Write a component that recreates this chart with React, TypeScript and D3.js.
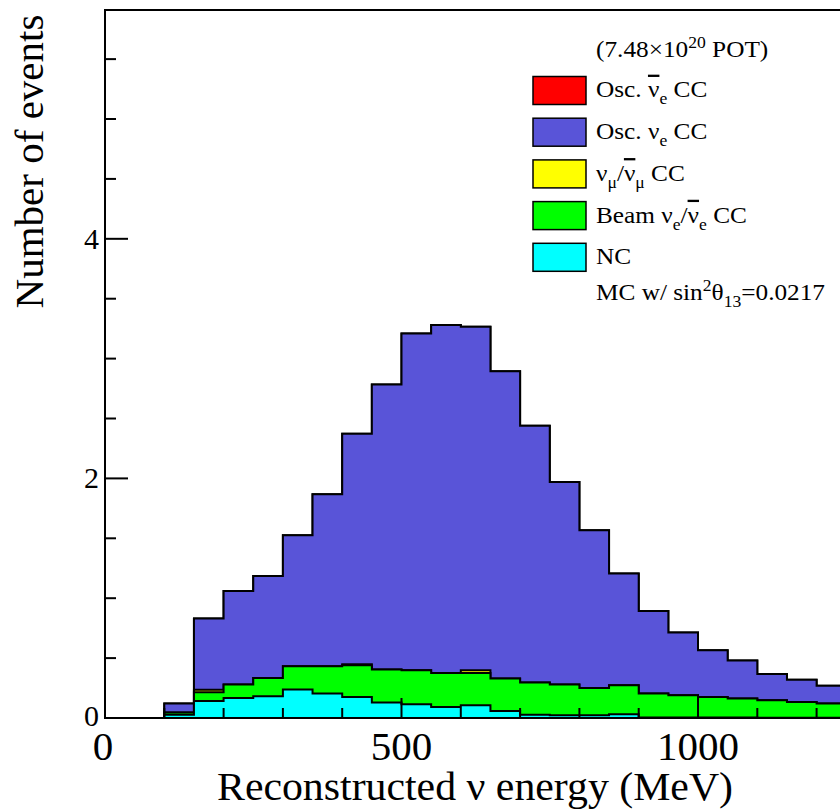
import React, { useRef, useEffect } from 'react';
import * as d3 from 'd3';

// histogram bins (lower edge, MeV), 50 MeV wide
const binLow = [100, 150, 200, 250, 300, 350, 400, 450, 500, 550, 600, 650, 700, 750, 800, 850, 900, 950, 1000, 1050, 1100, 1150, 1200];
const binWidth = 50;

// stacked components, bottom to top
const ncEvents = [0.028, 0.142, 0.167, 0.181, 0.237, 0.204, 0.175, 0.13, 0.114, 0.092, 0.106, 0.058, 0.028, 0.022, 0.022, 0.031, 0.005, 0.005, 0.004, 0.004, 0.003, 0.003, 0.003];
const beamNueEvents = [0.017, 0.073, 0.112, 0.153, 0.195, 0.228, 0.265, 0.274, 0.284, 0.284, 0.27, 0.271, 0.268, 0.257, 0.228, 0.242, 0.199, 0.185, 0.171, 0.158, 0.145, 0.131, 0.117];
const numuEvents = [0, 0.02, 0, 0, 0, 0, 0.008, 0, 0, 0, 0.022, 0, 0, 0, 0, 0, 0, 0, 0, 0, 0, 0, 0];
const oscNueEvents = [0.075, 0.595, 0.781, 0.852, 1.094, 1.436, 1.924, 2.38, 2.812, 2.904, 2.867, 2.566, 2.144, 1.691, 1.317, 0.933, 0.69, 0.523, 0.39, 0.317, 0.219, 0.186, 0.15];
const oscNuebarEvents = [0, 0, 0, 0, 0, 0, 0, 0, 0, 0, 0, 0, 0, 0, 0, 0, 0, 0, 0, 0, 0, 0, 0];

const seriesKeys = ['nc', 'beamNue', 'numu', 'oscNue', 'oscNuebar'];
const seriesColors = ['#00ffff', '#00ff00', '#ffff00', '#5954d8', '#ff0000'];

const xMajorTicks = [0, 500, 1000];
const yMajorTicks = [0, 2, 4];

// legend rows, top to bottom
const legendRows = [
    { color: '#ff0000', parts: [{ t: 'Osc. ' }, { t: 'ν', bar: true }, { t: 'e', sub: true }, { t: ' CC' }] },
    { color: '#5954d8', parts: [{ t: 'Osc. ' }, { t: 'ν' }, { t: 'e', sub: true }, { t: ' CC' }] },
    { color: '#ffff00', parts: [{ t: 'ν' }, { t: 'μ', sub: true }, { t: '/' }, { t: 'ν', bar: true }, { t: 'μ', sub: true }, { t: ' CC' }] },
    { color: '#00ff00', parts: [{ t: 'Beam ' }, { t: 'ν' }, { t: 'e', sub: true }, { t: '/' }, { t: 'ν', bar: true }, { t: 'e', sub: true }, { t: ' CC' }] },
    { color: '#00ffff', parts: [{ t: 'NC' }] },
];

const W = 840, H = 811;
const FONT = '"Liberation Serif", "Times New Roman", serif';

const App = () => {

    const ref = useRef(null);

    useEffect(() => {
        const svg = d3.select(ref.current);
        svg.selectAll('*').remove();

        const margin = { left: 105, top: 10, bottom: 93 };
        const xScale = d3.scaleLinear().domain([0, 1250]).range([margin.left, margin.left + 1250 * 0.593]);
        const yScale = d3.scaleLinear().domain([0, 5.91]).range([H - margin.bottom, margin.top]);

        const table = binLow.map((lo, i) => ({
            lo,
            nc: ncEvents[i],
            beamNue: beamNueEvents[i],
            numu: numuEvents[i],
            oscNue: oscNueEvents[i],
            oscNuebar: oscNuebarEvents[i],
        }));
        const stacked = d3.stack().keys(seriesKeys)(table);

        const g = svg.append('g');

        // cumulative histograms drawn from the top layer down
        for (let k = stacked.length - 1; k >= 0; k--) {
            const layer = stacked[k];
            const pts = [[binLow[0], 0]];
            layer.forEach((d, i) => {
                pts.push([binLow[i], d[1]]);
                pts.push([binLow[i] + binWidth, d[1]]);
            });
            const area = d3.area()
                .x(p => xScale(p[0]))
                .y0(yScale(0))
                .y1(p => yScale(p[1]));
            const line = d3.line()
                .x(p => xScale(p[0]))
                .y(p => yScale(p[1]));
            g.append('path')
                .attr('d', area(pts))
                .attr('fill', seriesColors[k]);
            g.append('path')
                .attr('d', line(pts))
                .attr('fill', 'none')
                .attr('stroke', '#000')
                .attr('stroke-width', 2);
        }

        // frame
        const x0 = xScale(0), y0 = yScale(0), yTop = yScale(5.91);
        g.append('path')
            .attr('d', `M${W + 10},${yTop}H${x0}V${y0}H${W + 10}`)
            .attr('fill', 'none')
            .attr('stroke', '#000')
            .attr('stroke-width', 2);

        // x ticks
        d3.range(0, 1300, 100).forEach(v => {
            const major = v % 500 === 0;
            g.append('line')
                .attr('x1', xScale(v)).attr('x2', xScale(v))
                .attr('y1', y0).attr('y2', y0 - (major ? 20 : 10))
                .attr('stroke', '#000').attr('stroke-width', 2);
        });
        xMajorTicks.forEach(v => {
            g.append('text')
                .attr('x', xScale(v) + (v === 0 ? -2 : 0)).attr('y', y0 + 42)
                .attr('text-anchor', 'middle')
                .style('font-family', FONT).style('font-size', '41px')
                .text(v);
        });

        // y ticks
        d3.range(0, 5.91, 0.5).forEach(v => {
            const major = v % 2 === 0;
            g.append('line')
                .attr('x1', x0).attr('x2', x0 + (major ? 23 : 11))
                .attr('y1', yScale(v)).attr('y2', yScale(v))
                .attr('stroke', '#000').attr('stroke-width', 2);
        });
        yMajorTicks.forEach(v => {
            g.append('text')
                .attr('x', x0 - 6).attr('y', yScale(v) + (v === 0 ? 8 : 10))
                .attr('text-anchor', 'end')
                .style('font-family', FONT).style('font-size', '30px')
                .text(v);
        });

        // axis titles
        g.append('text')
            .attr('x', 475).attr('y', 800)
            .attr('text-anchor', 'middle')
            .attr('textLength', 516)
            .attr('lengthAdjust', 'spacingAndGlyphs')
            .style('font-family', FONT).style('font-size', '40px')
            .text('Reconstructed ν energy (MeV)');
        g.append('text')
            .attr('transform', 'translate(43,161.5) rotate(-90)')
            .attr('text-anchor', 'middle')
            .style('font-family', FONT).style('font-size', '41px')
            .text('Number of events');

        // legend
        svg.append('g').selectAll('rect')
            .data(legendRows)
            .join('rect')
            .attr('x', 533).attr('y', (d, i) => 90.5 + i * 41.7 - 14)
            .attr('width', 53).attr('height', 28)
            .attr('fill', d => d.color)
            .attr('stroke', '#000').attr('stroke-width', 1.5);

        const lg = svg.append('g')
            .attr('transform', 'translate(596,0) scale(1.1,1)')
            .style('font-family', FONT).style('font-size', '23px');

        const pot = lg.append('text').attr('x', 0).attr('y', 57);
        pot.append('tspan').text('(7.48×10');
        pot.append('tspan').attr('dy', -9).style('font-size', '16px').text('20');
        pot.append('tspan').attr('dy', 9).text(' POT)');

        legendRows.forEach((row, i) => {
            const cy = 90.5 + i * 41.7;
            const t = lg.append('text').attr('x', 0).attr('y', cy + 7);
            let shifted = false;
            row.parts.forEach(p => {
                const ts = t.append('tspan').text(p.t);
                if (p.sub && !shifted) { ts.attr('dy', 7).style('font-size', '16px'); shifted = true; }
                else if (!p.sub && shifted) { ts.attr('dy', -7); shifted = false; }
                else if (p.sub) ts.style('font-size', '16px');
                if (p.bar) ts.style('text-decoration', 'overline');
            });
        });

        const mc = lg.append('text').attr('x', 0).attr('y', 300);
        mc.append('tspan').text('MC w/ sin');
        mc.append('tspan').attr('dy', -9).style('font-size', '16px').text('2');
        mc.append('tspan').attr('dy', 9).text('θ');
        mc.append('tspan').attr('dy', 7).style('font-size', '16px').text('13');
        mc.append('tspan').attr('dy', -7).text('=0.0217');

    }, []);

    return (
        <svg ref={ref} width={W} height={H} style={{ position: 'absolute', left: 0, top: 0, background: '#fff' }}></svg>
    );
};

export default App;
